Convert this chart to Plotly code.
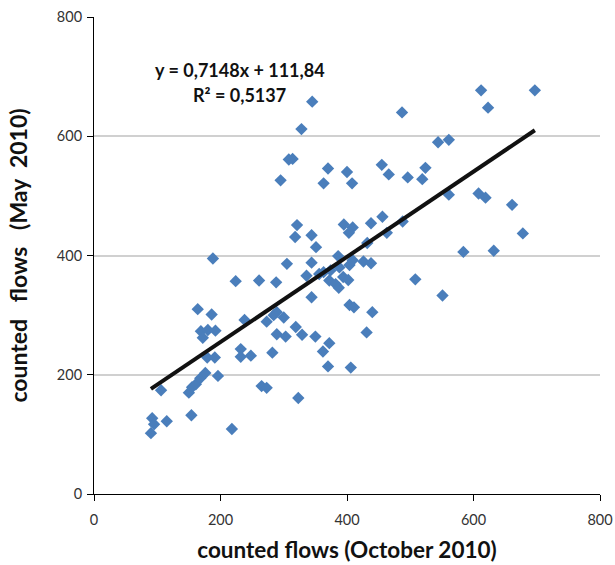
import plotly.graph_objects as go

# counted flows, October 2010 (x) vs May 2010 (y)
oct_2010 = [345, 328, 487, 314, 308, 370, 363, 400, 408, 455, 466, 496, 519, 524, 544, 561, 561,
            321, 395, 409, 438, 456, 488, 612, 697, 623, 608, 619, 661, 678, 584, 632, 295, 305,
            188, 224, 261, 288, 164, 186, 238, 273, 289, 300, 284, 169, 180, 192, 172, 289, 303,
            232, 232, 248, 282, 179, 191, 150, 155, 161, 168, 176, 196, 265, 273, 106, 318, 344,
            351, 403, 432, 463, 344, 386, 404, 409, 426, 438, 336, 356, 363, 374, 388, 372, 382,
            387, 394, 402, 508, 551, 344, 404, 411, 440, 431, 319, 329, 350, 372, 362, 370, 406,
            323, 92, 95, 115, 90, 154, 218]
may_2010 = [658, 612, 640, 562, 561, 546, 521, 540, 521, 552, 536, 531, 528, 547, 590, 594, 502,
            451, 452, 447, 454, 465, 457, 677, 677, 648, 504, 497, 485, 437, 406, 408, 526, 386,
            395, 357, 358, 355, 310, 301, 292, 289, 305, 296, 300, 273, 275, 274, 262, 268, 264,
            243, 230, 232, 237, 229, 229, 170, 179, 184, 194, 203, 198, 181, 178, 174, 431, 434,
            414, 438, 421, 438, 388, 399, 384, 392, 390, 387, 366, 369, 372, 375, 380, 358, 352,
            346, 364, 359, 360, 333, 330, 317, 313, 305, 271, 280, 267, 264, 253, 239, 214, 212,
            161, 127, 117, 122, 102, 132, 109]

slope = 0.7148
intercept = 111.84
equation_text = "y = 0,7148x + 111,84"
r2_text = "R² = 0,5137"
x_ticks = [0, 200, 400, 600, 800]
y_ticks = [0, 200, 400, 600, 800]

FONT = "Lato, Calibri, sans-serif"
NB = "\u00a0"

x_line = [min(oct_2010), max(oct_2010)]
y_line = [slope * v + intercept for v in x_line]

fig = go.Figure()
fig.add_trace(go.Scatter(
    x=oct_2010, y=may_2010, mode="markers",
    marker=dict(symbol="diamond", size=9.5, color="#4A7EBB", line=dict(width=0)),
    showlegend=False,
))
fig.add_trace(go.Scatter(
    x=x_line, y=y_line, mode="lines",
    line=dict(color="#111111", width=4),
    showlegend=False,
))

fig.update_layout(
    width=615, height=565,
    margin=dict(l=94, r=15, t=17, b=71, autoexpand=False),
    paper_bgcolor="white", plot_bgcolor="white",
    font=dict(family=FONT, size=14, color="#222222"),
    annotations=[
        dict(x=0.2885, y=0.889, xref="paper", yref="paper", xanchor="center", yanchor="middle",
             text="<b>" + equation_text + "</b>", showarrow=False,
             font=dict(family=FONT, size=18, color="#111111")),
        dict(x=0.2885, y=0.836, xref="paper", yref="paper", xanchor="center", yanchor="middle",
             text="<b>" + r2_text + "</b>", showarrow=False,
             font=dict(family=FONT, size=18, color="#111111")),
    ],
    xaxis=dict(
        range=[0, 800], tickvals=x_ticks, showgrid=False, zeroline=False,
        showline=True, linecolor="black", linewidth=1,
        ticks="outside", ticklen=6, tickcolor="black", ticklabelstandoff=7,
        tickfont=dict(family=FONT, size=14.5, color="#333333"),
        title=dict(text="<b>counted flows (October 2010)</b>",
                   font=dict(family=FONT, size=22.5, color="#111111"), standoff=14),
    ),
    yaxis=dict(
        range=[0, 800], tickvals=y_ticks, showgrid=True, gridcolor="#D0D0D0", gridwidth=1.5,
        zeroline=False, showline=True, linecolor="black", linewidth=1,
        ticks="outside", ticklen=6, tickcolor="black", ticklabelstandoff=2,
        tickfont=dict(family=FONT, size=14.5, color="#333333"),
        title=dict(text="<b>counted" + NB * 3 + "flows" + NB * 3 + "(May" + NB * 2 + "2010)</b>",
                   font=dict(family=FONT, size=23, color="#111111"), standoff=22),
    ),
)
fig.write_html("out.html")
